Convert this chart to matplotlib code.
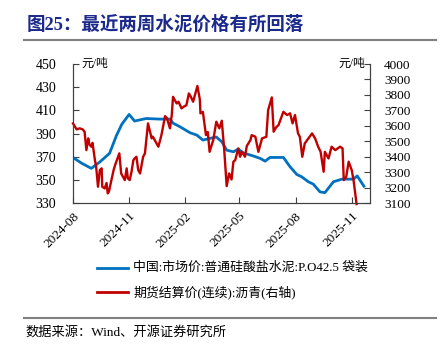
import numpy as np
import pandas as pd
import matplotlib
matplotlib.use('Agg')
import matplotlib.pyplot as plt

plt.rcParams['font.family'] = ['Liberation Serif', 'Noto Sans CJK SC']
plt.rcParams['axes.unicode_minus'] = False

start = pd.Timestamp('2024-08-01')

# cement price (left axis), day offset from 2024-08-01
cement_days = [0, 14, 30, 44, 60, 71, 80, 92, 101, 120, 142, 159, 164, 175, 192, 203,
               213, 224, 235, 244, 252, 263, 271, 279, 296, 307, 315, 323, 345, 356,
               367, 375, 386, 394, 405, 413, 427, 441, 460, 466, 477]
cement = [369.4, 364.5, 360, 365.5, 373, 388, 398, 406.5, 400.8, 403, 402.5, 402.5, 399,
          396, 390.7, 388.7, 384.4, 385.8, 387, 383, 375.7, 374.3, 376.6, 373.4, 370.6,
          368.6, 366.2, 369.4, 369.4, 361.3, 354.7, 352.7, 348.4, 346.4, 339.7, 339,
          348.4, 350.7, 350.7, 353.5, 344.6]

# asphalt futures settlement (right axis)
asph_days = [0, 6, 11, 16, 19, 22, 25, 27, 30, 32, 36, 38, 41, 44, 47, 48, 52, 55, 57, 59,
             63, 67, 70, 76, 79, 82, 85, 88, 90, 93, 96, 99, 101, 104, 107, 110, 115, 118,
             123, 129, 131, 134, 140, 145, 151, 154, 159, 162, 164, 170, 173, 178, 182,
             186, 190, 193, 197, 200, 204, 208, 209, 213, 218, 221, 224, 230, 235, 240,
             244, 248, 252, 256, 260, 263, 266, 271, 274, 277, 282, 285, 291, 293, 299,
             304, 310, 317, 320, 326, 329, 333, 337, 345, 351, 356, 360, 364, 369, 372,
             376, 380, 386, 392, 397, 402, 406, 411, 413, 419, 424, 430, 438, 442, 444,
             448, 452, 457, 460, 465]
asphalt = [3616, 3577, 3584, 3577, 3562, 3443, 3519, 3480, 3465, 3490, 3378, 3335, 3206,
           3314, 3325, 3206, 3195, 3230, 3163, 3175, 3249, 3320, 3357, 3422, 3292, 3270,
           3249, 3325, 3260, 3249, 3303, 3378, 3389, 3400, 3314, 3292, 3400, 3422, 3616,
           3519, 3530, 3508, 3465, 3540, 3663, 3650, 3584, 3670, 3788, 3745, 3756, 3713,
           3725, 3734, 3810, 3790, 3756, 3800, 3858, 3770, 3681, 3690, 3540, 3560, 3432,
           3508, 3627, 3584, 3633, 3443, 3210, 3292, 3253, 3368, 3378, 3454, 3400, 3432,
           3400, 3470, 3508, 3540, 3530, 3432, 3519, 3529, 3702, 3784, 3562, 3590, 3605,
           3691, 3670, 3681, 3616, 3670, 3551, 3529, 3400, 3486, 3519, 3551, 3519, 3465,
           3432, 3303, 3432, 3389, 3465, 3443, 3465, 3454, 3249, 3270, 3368, 3314, 3249,
           3094]

xticks = ['2024-08', '2024-11', '2025-02', '2025-05', '2025-08', '2025-11']

cement_dates = start + pd.to_timedelta(cement_days, unit='D')
asph_dates = start + pd.to_timedelta(asph_days, unit='D')

fig = plt.figure(figsize=(4.41, 3.49), dpi=100)
ax = fig.add_axes([0.1655, 0.418, 0.6735, 0.3985])
ax2 = ax.twinx()

ax.plot(cement_dates, cement, color='#0070C0', lw=2.0)
ax2.plot(asph_dates, asphalt, color='#C00000', lw=1.7, clip_on=False)

ax.set_ylim(330, 450)
ax.set_yticks(np.arange(330, 451, 20))
ax2.set_ylim(3100, 4000)
ax2.set_yticks(np.arange(3100, 4001, 100))
ax.set_xlim(pd.Timestamp('2024-08-01'), pd.Timestamp('2025-12-01'))
ax.set_xticks([pd.Timestamp(t + '-01') for t in xticks])
ax.set_xticklabels(xticks, rotation=45, ha='right', va='top', rotation_mode='anchor')

for a in (ax, ax2):
    a.spines['top'].set_visible(False)
    for s in a.spines.values():
        s.set_color('#404040')
        s.set_linewidth(0.8)
ax.tick_params(axis='y', direction='in', length=4, pad=12, labelsize=10, color='#404040')
ax.tick_params(axis='x', direction='in', length=4, pad=5, labelsize=9.5, color='#404040')
ax2.tick_params(axis='y', direction='in', length=4, pad=10, labelsize=9.5, color='#404040')

ax.text(0.03, 1.0, '元/吨', transform=ax.transAxes, fontsize=8.5, ha='left', va='center')
ax2.text(0.985, 1.0, '元/吨', transform=ax.transAxes, fontsize=8.5, ha='right', va='center')

# title, rules, legend, source
fig.text(0.061, 0.928, '图25：最近两周水泥价格有所回落', fontsize=13.3, fontweight='bold',
         color='#1C2A8C', ha='left', va='center')
fig.add_artist(plt.Line2D([0.054, 0.988], [0.884, 0.884], color='#808080', lw=1.5))
fig.add_artist(plt.Line2D([0.054, 0.988], [0.089, 0.089], color='#808080', lw=1.5))

fig.add_artist(plt.Line2D([0.22, 0.29], [0.232, 0.232], color='#0070C0', lw=2.0))
fig.add_artist(plt.Line2D([0.22, 0.29], [0.163, 0.163], color='#C00000', lw=2.0))
fig.text(0.302, 0.232, '中国:市场价:普通硅酸盐水泥:P.O42.5 袋装', fontsize=9.3,
         ha='left', va='center')
fig.text(0.302, 0.163, '期货结算价(连续):沥青(右轴)', fontsize=9.3, ha='left', va='center')
fig.text(0.057, 0.049, '数据来源：Wind、开源证券研究所', fontsize=9.5, ha='left', va='center')

fig.savefig('out.png', dpi=100)
